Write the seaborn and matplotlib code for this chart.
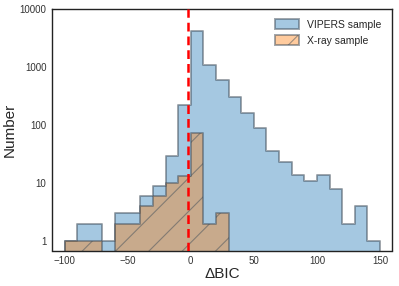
import numpy as np
import pandas as pd
import matplotlib
matplotlib.use("Agg")
import matplotlib.pyplot as plt
import seaborn as sns
from matplotlib.colors import to_rgba
from matplotlib.ticker import FixedLocator, FixedFormatter, NullLocator

# ---- data (counts per 10-unit bin of Delta BIC) ----
bin_edges = list(range(-100, 151, 10))
vipers_left = list(range(-100, 150, 10))
vipers_counts = [1, 2, 2, 1, 3, 3, 6, 9, 29, 220,
                 4100, 1070, 600, 310, 163, 90, 36, 23, 14, 11,
                 14, 8, 2, 4, 1]
xray_left = list(range(-100, 30, 10))
xray_counts = [1, 1, 1, 0, 2, 2, 4, 6, 10, 13, 74, 2, 3]
y_ticks = [1, 10, 100, 1000, 10000]
y_tick_labels = ["1", "10", "100", "1000", "10000"]
x_ticks = [-100, -50, 0, 50, 100, 150]
x_tick_labels = ["\u2212100", "\u221250", "0", "50", "100", "150"]
cut_value = -2

sns.set_style("white")
plt.rcParams["font.family"] = ["Liberation Sans", "DejaVu Sans"]
plt.rcParams["hatch.linewidth"] = 0.8

fig = plt.figure(figsize=(3.99, 2.86), dpi=100)
ax = fig.add_axes([52/399, 1-250.5/286, (392-52)/399, (250.5-9)/286])

df_v = pd.DataFrame({"x": np.array(vipers_left) + 5, "w": vipers_counts})
df_x = pd.DataFrame({"x": np.array(xray_left) + 5, "w": xray_counts})

sns.histplot(data=df_v, x="x", weights="w", bins=bin_edges, element="step",
             fill=True, color="#1f77b4", ax=ax, label="VIPERS sample",
             linewidth=1.5)
sns.histplot(data=df_x, x="x", weights="w", bins=bin_edges[:14], element="step",
             fill=True, color="#ff7f0e", ax=ax, label="X-ray sample",
             linewidth=1.5, hatch="/")

face = {0: to_rgba("#1f77b4", 0.4), 1: to_rgba("#ff7f0e", 0.4)}
for i, coll in enumerate(ax.collections):
    coll.set_alpha(None)
    coll.set_facecolor(face[i])
    coll.set_edgecolor((0.25, 0.3, 0.35, 0.5))
    coll.set_linewidth(1.4)
for ln in ax.lines:
    ln.set_visible(False)

ax.set_yscale("log")
ax.set_ylim(0.69, 10000)
ax.set_xlim(-110, 159.5)
ax.axvline(cut_value, color="red", ls=(0, (3.5, 2)), lw=1.8, zorder=5)

ax.yaxis.set_major_locator(FixedLocator(y_ticks))
ax.yaxis.set_major_formatter(FixedFormatter(y_tick_labels))
ax.yaxis.set_minor_locator(NullLocator())
ax.set_xticks(x_ticks)
ax.set_xticklabels(x_tick_labels)
ax.tick_params(axis="both", labelsize=7, length=0, pad=4, colors="#333333")
for s in ax.spines.values():
    s.set_color("#222222")
    s.set_linewidth(1.0)

ax.set_xlabel("\u0394BIC", fontsize=11, labelpad=1)
ax.set_ylabel("Number", fontsize=11, labelpad=2)

leg = ax.legend(loc="upper right", fontsize=7.5, frameon=False,
                handlelength=2.3, handleheight=1.1, borderaxespad=0.6)

fig.savefig("out.png", dpi=100)
